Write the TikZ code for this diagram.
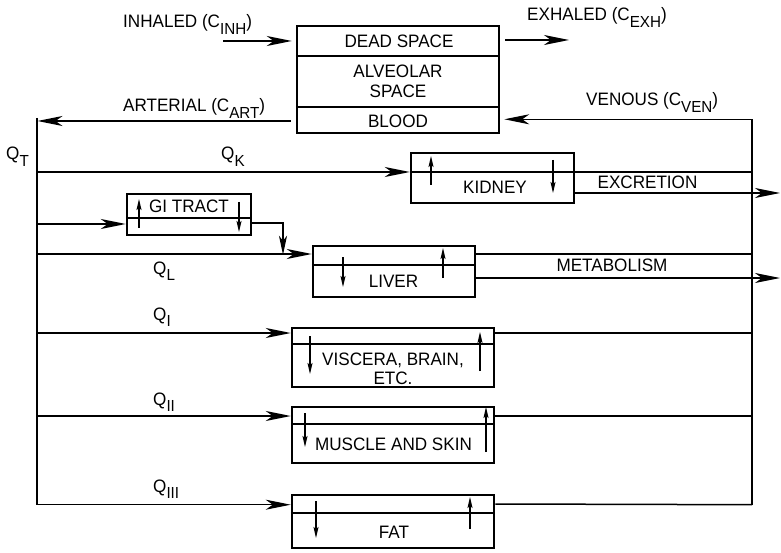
\documentclass[tikz,border=0pt]{standalone}
\usepackage{fontspec}
\setmainfont{Liberation Sans}[FakeStretch=0.95]
\usetikzlibrary{arrows.meta}
\newcommand{\lsub}[1]{\raisebox{-6.5pt}{\fontsize{16}{17}\selectfont #1}}
\begin{document}
\begin{tikzpicture}[x=1pt,y=-1pt,
  font=\fontsize{18}{20}\selectfont,
  organ/.style={draw, line width=2.5pt, inner sep=0pt},
  divider/.style={line width=1.7pt},
  flow/.style={line width=1.5pt},
  big/.style={-{Stealth[length=25pt,width=10pt,inset=7pt]}},
  mid/.style={-{Stealth[length=19pt,width=8pt,inset=5pt]}},
  small/.style={line width=1.2pt,-{Stealth[length=11pt,width=5pt,inset=2pt]}},
  lbl/.style={inner sep=0pt, anchor=base west},
  txt/.style={inner sep=0pt, anchor=base}]
\useasboundingbox (0,0) rectangle (781,553);

% ---- boxes ----
\node[organ, minimum width=202pt, minimum height=107pt] (lung) at (398,79.5) {};
\node[organ, minimum width=163pt, minimum height=50pt] (kid) at (492.5,178) {};
\node[organ, minimum width=124pt, minimum height=41pt] (gi) at (189,214.5) {};
\node[organ, minimum width=162pt, minimum height=51pt] (liv) at (394,271.5) {};
\node[organ, minimum width=202pt, minimum height=59pt] (vis) at (393,357.5) {};
\node[organ, minimum width=202pt, minimum height=56pt] (mus) at (393,435) {};
\node[organ, minimum width=202pt, minimum height=53pt] (fat) at (393,521.5) {};

% ---- dividers ----
\draw[divider] (lung.west |- 0,56) -- (lung.east |- 0,56);
\draw[divider] (lung.west |- 0,107) -- (lung.east |- 0,107);
\draw[divider] (kid.west |- 0,172) -- (kid.east |- 0,172);
\draw[divider] (gi.west |- 0,218) -- (gi.east |- 0,218);
\draw[divider] (liv.west |- 0,265) -- (liv.east |- 0,265);
\draw[divider] (vis.west |- 0,344) -- (vis.east |- 0,344);
\draw[divider] (mus.west |- 0,424) -- (mus.east |- 0,424);
\draw[divider] (fat.west |- 0,513) -- (fat.east |- 0,513);

% ---- box texts ----
\node[txt] (tds) at (399,48) {DEAD SPACE};
\node[txt] (tal) at (398,78) {ALVEOLAR};
\node[txt] (tsp) at (398,98) {SPACE};
\node[txt] (tbl) at (398,128) {BLOOD};
\node[txt] (tkid) at (495,194) {KIDNEY};
\node[txt] (tgi) at (189,213) {GI TRACT};
\node[txt] (tliv) at (393.5,287) {LIVER};
\node[txt] (tvis) at (393,365) {VISCERA, BRAIN,};
\node[txt] (tetc) at (393,384) {ETC.};
\node[txt] (tmus) at (393.5,450) {MUSCLE AND SKIN};
\node[txt] (tfat) at (394,538) {FAT};

% ---- outside labels ----
\node[lbl] (linh) at (123,28) {INHALED (C\lsub{INH})};
\node[lbl] (lexh) at (527,21) {EXHALED (C\lsub{EXH})};
\node[lbl] (lart) at (123,112) {ARTERIAL (C\lsub{ART})};
\node[lbl] (lven) at (586,106) {VENOUS (C\lsub{VEN})};
\node[lbl] (lqt) at (6,160) {Q\lsub{T}};
\node[lbl] (lqk) at (221,160) {Q\lsub{K}};
\node[lbl] (lql) at (153,274) {Q\lsub{L}};
\node[lbl] (lqi) at (153,320) {Q\lsub{I}};
\node[lbl] (lqii) at (153,405) {Q\lsub{II}};
\node[lbl] (lqiii) at (153,492) {Q\lsub{III}};
\node[txt] (lexc) at (647.5,189) {EXCRETION};
\node[txt] (lmet) at (612,272) {METABOLISM};

% ---- trunk coordinates ----
\coordinate (artT) at (37,118);
\coordinate (artB) at (37,504.7);
\coordinate (venT) at (752,119.3);
\coordinate (venB) at (752,504.7);
\coordinate (inhS) at (223,41);
\coordinate (exhE) at (569,40);
\coordinate (excE) at (780,193);
\coordinate (metE) at (780,278);
\coordinate (giT) at (283,223);

% ---- lung connections ----
\draw[flow,big] (inhS) -- ([xshift=-4pt]lung.west |- inhS);
\draw[flow,big] ([xshift=5pt]lung.east |- exhE) -- (exhE);
\draw[flow,big] ([xshift=-5pt]lung.west |- 0,121) -- (37.5,121);
\draw[flow,big] (venT) -- ([xshift=4pt]lung.east |- venT);

% ---- trunks ----
\draw[flow] (artT) -- (artB);
\draw[flow] (venT) -- (venB);

% ---- arterial branches ----
\draw[flow,big] (artT |- 0,172) -- (kid.west |- 0,172);
\draw[flow,big] (artT |- 0,224) -- (gi.west |- 0,224);
\draw[flow,big] (artT |- 0,254) -- (liv.west |- 0,254);
\draw[flow,big] (artT |- 0,333) -- (vis.west |- 0,333);
\draw[flow,big] (artT |- 0,416) -- (mus.west |- 0,416);
\draw[flow,big] (artB) -- (fat.west |- artB);

% ---- GI to liver ----
\draw[flow,mid] (gi.east |- giT) -- (giT) -- (giT |- 0,254.8);

% ---- venous returns ----
\draw[flow] (kid.east |- 0,172) -- (venT |- 0,172);
\draw[flow] (liv.east |- 0,254) -- (venT |- 0,254);
\draw[flow] (vis.east |- 0,333) -- (venT |- 0,333);
\draw[flow] (mus.east |- 0,416) -- (venT |- 0,416);
\draw[flow] (fat.east |- 0,504) -- (venB);

% ---- eliminations ----
\draw[flow,big] (kid.east |- excE) -- (excE);
\draw[flow,big] (liv.east |- metE) -- (metE);

% ---- internal arrows ----
\draw[small] (431,185) -- (431,156);
\draw[small] (553,160) -- (553,193);
\draw[small] (139,228) -- (139,199);
\draw[small] (239,202) -- (239,232);
\draw[small] (343,257) -- (343,287);
\draw[small] (443,278) -- (443,248);
\draw[small] (310,336) -- (310,374);
\draw[small] (480,371) -- (480,332);
\draw[small] (305,413) -- (305,447);
\draw[small] (486,452) -- (486,407);
\draw[small] (316,501) -- (316,538);
\draw[small] (470,529) -- (470,497);
\end{tikzpicture}
\end{document}
